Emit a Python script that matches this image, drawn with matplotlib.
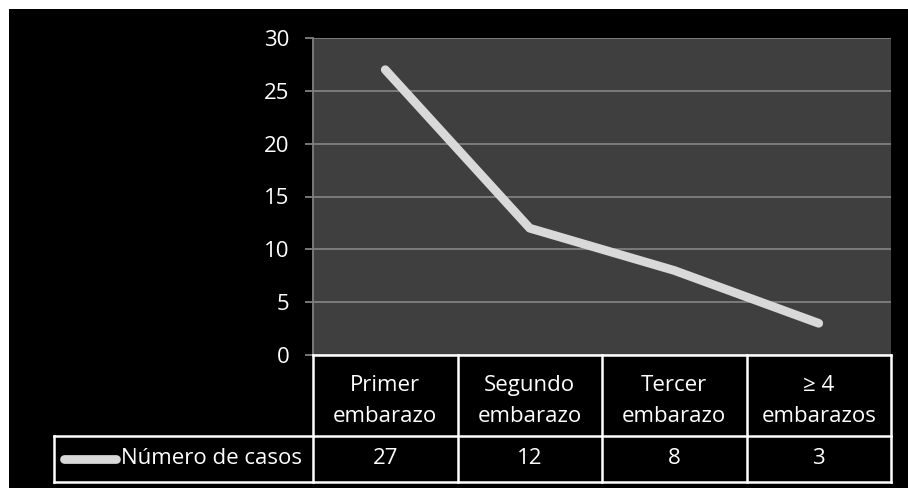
import matplotlib
matplotlib.use("Agg")
import matplotlib.pyplot as plt
from matplotlib.patches import Rectangle
import matplotlib.transforms as mtransforms

categories = ["Primer\nembarazo", "Segundo\nembarazo", "Tercer\nembarazo", "\u2265 4\nembarazos"]
casos = [27, 12, 8, 3]
serie = "Número de casos"
yticks = [0, 5, 10, 15, 20, 25, 30]

W, H = 908, 488
FONT = ["Open Sans", "DejaVu Sans"]
FS = 16
LINE_C = "#d9d9d9"
GRID_C = "#808080"

fig = plt.figure(figsize=(W / 100, H / 100), dpi=100, facecolor="white")
fig.patches.append(Rectangle((9 / W, 0), 1 - 9 / W, 1 - 9 / H, transform=fig.transFigure,
                             facecolor="black", edgecolor="none", zorder=-10))

x0, x1, ytop, ybot = 313, 891, 38, 355
ax = fig.add_axes([x0 / W, 1 - ybot / H, (x1 - x0) / W, (ybot - ytop) / H])
ax.set_facecolor("#3f3f3f")

xs = list(range(len(casos)))
ax.plot(xs, casos, color=LINE_C, lw=6.3, solid_capstyle="round", solid_joinstyle="round", zorder=3)

ax.set_xlim(-0.5, len(casos) - 0.5)
ax.set_ylim(0, 30)
ax.set_yticks(yticks)
ax.set_yticklabels([str(v) for v in yticks], family=FONT, fontsize=FS, color="white")
ax.set_xticks([])
ax.grid(axis="y", color=GRID_C, lw=1.3, zorder=1)
ax.tick_params(axis="y", length=6, width=1.3, color=GRID_C, pad=11)
for s in ["top", "right"]:
    ax.spines[s].set_visible(False)
ax.spines["left"].set_color(GRID_C)
ax.spines["left"].set_linewidth(1.3)
ax.spines["bottom"].set_visible(False)

# data table below the plot
trans = mtransforms.blended_transform_factory(ax.transData, ax.transAxes)
ph = ybot - ytop
def yf(py):
    return (ybot - py) / ph
def xd(px):
    return -0.5 + (px - x0) / ((x1 - x0) / len(casos))

y_head_top = 0.0
y_mid = yf(436)
y_bot = yf(482)
x_left = xd(54)
xr = len(casos) - 0.5
lkw = dict(color="white", lw=1.8, transform=trans, clip_on=False, zorder=5)
ax.plot([-0.5, xr], [y_head_top, y_head_top], **lkw)
ax.plot([x_left, xr], [y_mid, y_mid], **lkw)
ax.plot([x_left, xr], [y_bot, y_bot], **lkw)
ax.plot([x_left, x_left], [y_mid, y_bot], **lkw)
for i in range(len(casos) + 1):
    xb = i - 0.5
    ax.plot([xb, xb], [y_head_top, y_bot], **lkw)

for i, (c, v) in enumerate(zip(categories, casos)):
    ax.text(i, yf(401), c, transform=trans, ha="center", va="center", color="white",
            family=FONT, fontsize=FS, linespacing=1.65, clip_on=False)
    ax.text(i, yf(459), str(v), transform=trans, ha="center", va="center", color="white",
            family=FONT, fontsize=FS, clip_on=False)

# legend key inside the table's label cell
ax.plot([xd(64), xd(116)], [yf(459), yf(459)], color=LINE_C, lw=6.3,
        solid_capstyle="round", transform=trans, clip_on=False, zorder=6)
ax.text(xd(121), yf(459), serie, transform=trans, ha="left", va="center", color="white",
        family=FONT, fontsize=FS, clip_on=False)

fig.savefig("out.png", dpi=100, facecolor=fig.get_facecolor())
